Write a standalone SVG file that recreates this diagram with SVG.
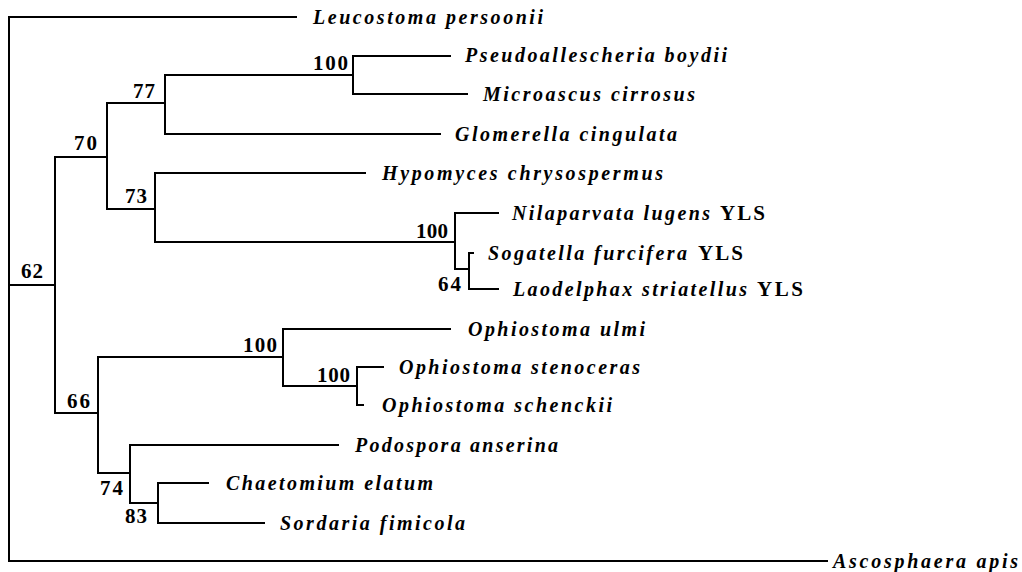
<svg xmlns="http://www.w3.org/2000/svg" width="1022" height="572" viewBox="0 0 1022 572">
<style>
.br{stroke:#000;stroke-width:2;fill:none;stroke-linecap:square}
.sp{font-family:"Liberation Serif","Times New Roman",serif;font-style:italic;font-weight:bold;font-size:20px;fill:#000}
.up{font-family:"Liberation Serif","Times New Roman",serif;font-weight:bold;font-size:21px;fill:#000}
.bs{font-family:"Liberation Serif","Times New Roman",serif;font-weight:bold;font-size:21px;fill:#000}
</style>
<rect width="1022" height="572" fill="#fff"/>
<g id="connectors" class="br">
<path d="M9,17V561M9,17H296M9,561H827M9,285H55"/>
<path d="M55,157V413M55,157H107M107,103V209"/>
<path d="M107,103H165M165,75V134M165,75H353M353,56V94M353,56H450M353,94H467M165,134H440"/>
<path d="M107,209H155M155,173V242M155,173H365M155,242H455M455,213V269M455,213H498M455,269H469M469,253V289M469,253H473M469,289H498"/>
<path d="M55,413H98M98,357V473M98,357H283M283,329V386M283,329H450M283,386H357M357,367V405M357,367H383M357,405H363"/>
<path d="M98,473H130M130,445V503M130,445H338M130,503H158M158,483V523M158,483H208M158,523H264"/>
</g>
<g id="leaf-leucostoma"><text class="sp" x="313" y="24" textLength="230" lengthAdjust="spacing">Leucostoma persoonii</text></g>
<g id="leaf-pseudoallescheria"><text class="sp" x="465" y="62" textLength="262" lengthAdjust="spacing">Pseudoallescheria boydii</text></g>
<g id="leaf-microascus"><text class="sp" x="483" y="101" textLength="212" lengthAdjust="spacing">Microascus cirrosus</text></g>
<g id="leaf-glomerella"><text class="sp" x="455" y="141" textLength="222" lengthAdjust="spacing">Glomerella cingulata</text></g>
<g id="leaf-hypomyces"><text class="sp" x="382" y="180" textLength="281" lengthAdjust="spacing">Hypomyces chrysospermus</text></g>
<g id="leaf-nilaparvata"><text class="sp" x="512" y="220"><tspan textLength="198" lengthAdjust="spacing">Nilaparvata lugens</tspan><tspan class="up" x="720" textLength="45" lengthAdjust="spacing" font-style="normal">YLS</tspan></text></g>
<g id="leaf-sogatella"><text class="sp" x="488" y="260"><tspan textLength="199" lengthAdjust="spacing">Sogatella furcifera</tspan><tspan class="up" x="698" textLength="45" lengthAdjust="spacing" font-style="normal">YLS</tspan></text></g>
<g id="leaf-laodelphax"><text class="sp" x="513" y="296"><tspan textLength="234" lengthAdjust="spacing">Laodelphax striatellus</tspan><tspan class="up" x="757" textLength="46" lengthAdjust="spacing" font-style="normal">YLS</tspan></text></g>
<g id="leaf-ophiostoma-ulmi"><text class="sp" x="468" y="336" textLength="177" lengthAdjust="spacing">Ophiostoma ulmi</text></g>
<g id="leaf-ophiostoma-stenoceras"><text class="sp" x="399" y="374" textLength="241" lengthAdjust="spacing">Ophiostoma stenoceras</text></g>
<g id="leaf-ophiostoma-schenckii"><text class="sp" x="382" y="412" textLength="230" lengthAdjust="spacing">Ophiostoma schenckii</text></g>
<g id="leaf-podospora"><text class="sp" x="355" y="452" textLength="203" lengthAdjust="spacing">Podospora anserina</text></g>
<g id="leaf-chaetomium"><text class="sp" x="226" y="490" textLength="207" lengthAdjust="spacing">Chaetomium elatum</text></g>
<g id="leaf-sordaria"><text class="sp" x="280" y="530" textLength="185" lengthAdjust="spacing">Sordaria fimicola</text></g>
<g id="leaf-ascosphaera"><text class="sp" x="833" y="568" textLength="185" lengthAdjust="spacing">Ascosphaera apis</text></g>
<g id="node-62"><text class="bs" x="21" y="278" textLength="22" lengthAdjust="spacing">62</text></g>
<g id="node-70"><text class="bs" x="74" y="150" textLength="23" lengthAdjust="spacing">70</text></g>
<g id="node-77"><text class="bs" x="133" y="98" textLength="22" lengthAdjust="spacing">77</text></g>
<g id="node-100-pseudo"><text class="bs" x="313" y="70" textLength="35" lengthAdjust="spacing">100</text></g>
<g id="node-73"><text class="bs" x="125" y="203" textLength="22" lengthAdjust="spacing">73</text></g>
<g id="node-100-yls"><text class="bs" x="416" y="238" textLength="32" lengthAdjust="spacing">100</text></g>
<g id="node-64"><text class="bs" x="438" y="291" textLength="23" lengthAdjust="spacing">64</text></g>
<g id="node-100-ophiostoma"><text class="bs" x="243" y="352" textLength="34" lengthAdjust="spacing">100</text></g>
<g id="node-100-sten"><text class="bs" x="317" y="382" textLength="33" lengthAdjust="spacing">100</text></g>
<g id="node-66"><text class="bs" x="67" y="408" textLength="23" lengthAdjust="spacing">66</text></g>
<g id="node-74"><text class="bs" x="100" y="495" textLength="23" lengthAdjust="spacing">74</text></g>
<g id="node-83"><text class="bs" x="125" y="523" textLength="22" lengthAdjust="spacing">83</text></g>
</svg>
